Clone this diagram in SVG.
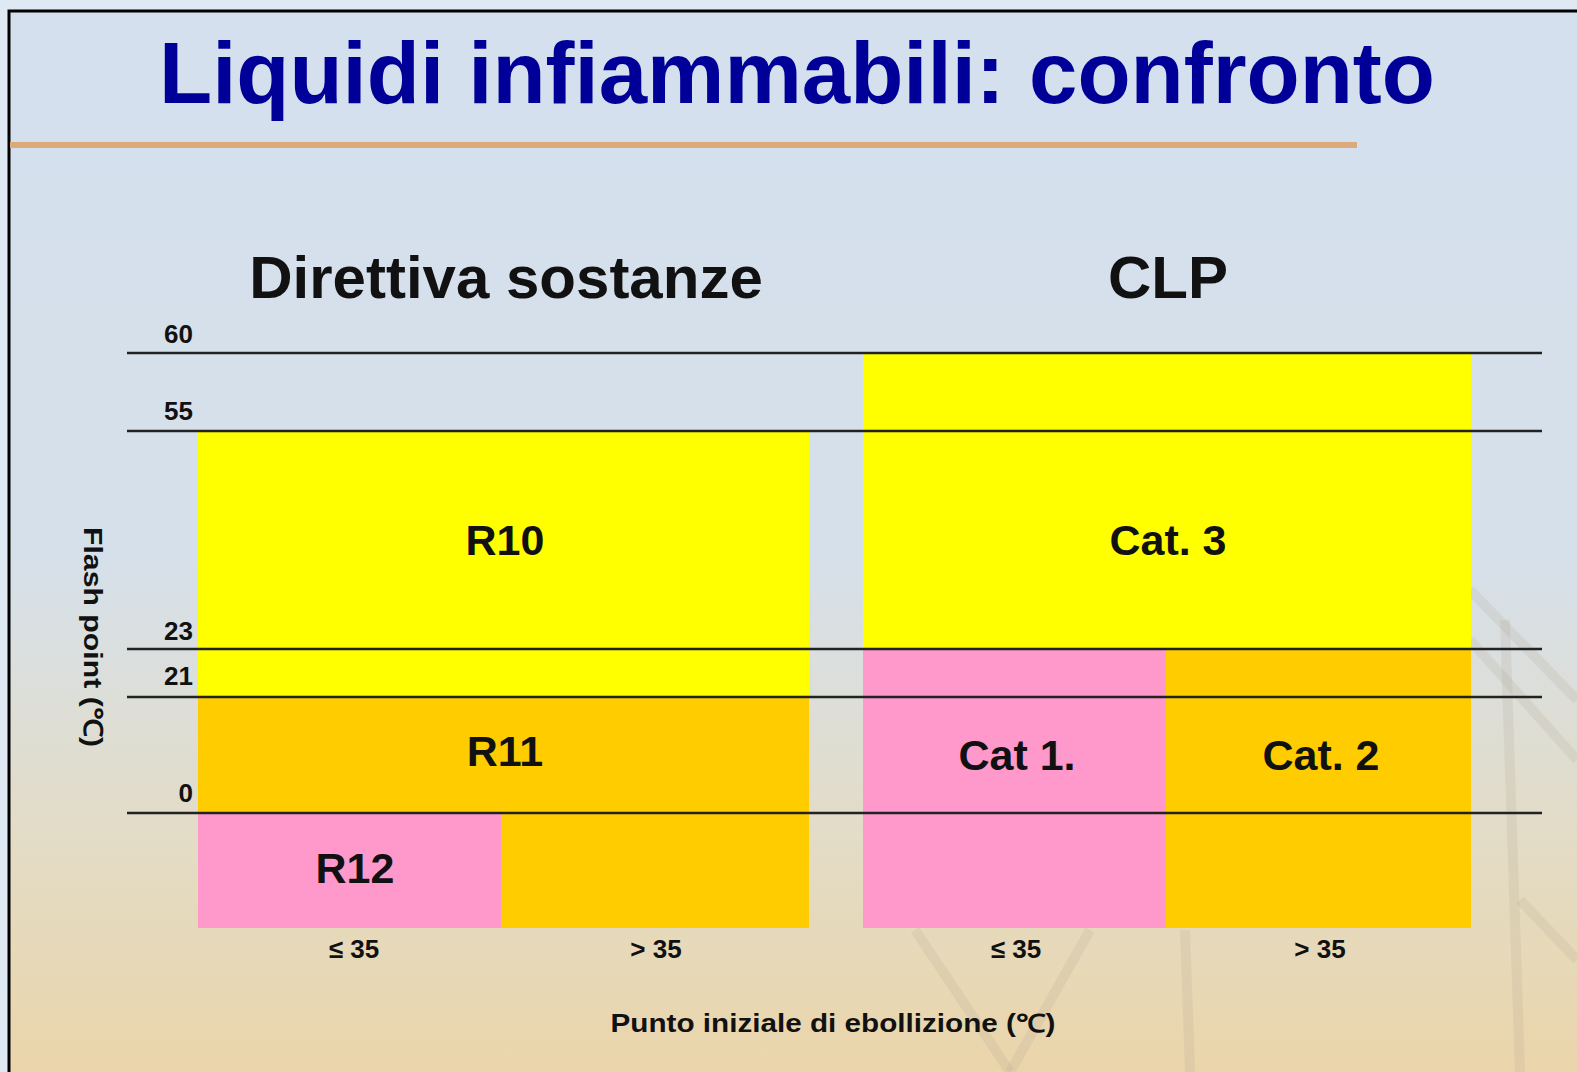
<svg xmlns="http://www.w3.org/2000/svg" width="1577" height="1072" viewBox="0 0 1577 1072">
<defs>
<linearGradient id="bg" x1="0" y1="0" x2="0" y2="1">
<stop offset="0" stop-color="#d4e0ee"/>
<stop offset="0.5" stop-color="#d6e0ea"/>
<stop offset="0.75" stop-color="#e3dcc6"/>
<stop offset="1" stop-color="#ecd4a6"/>
</linearGradient>
<style>
.t{font-family:"Liberation Sans",Arial,sans-serif;font-weight:bold;fill:#111}
.ax{font-size:26px;text-anchor:end}
.lb{font-size:43px;text-anchor:middle}
.bt{font-size:26px;text-anchor:middle}
.ln{stroke:#222;stroke-width:2.5}
.tw{stroke:#a89c86;stroke-opacity:0.16;stroke-width:10;fill:none}
</style>
</defs>
<rect x="0" y="0" width="1577" height="1072" fill="#dfe9f3"/>
<rect x="9" y="11" width="1600" height="1100" fill="url(#bg)" stroke="#000" stroke-width="3"/>
<g id="tower">
<path class="tw" d="M1470 590 L1577 700"/>
<path class="tw" d="M1470 640 L1577 760"/>
<path class="tw" d="M1505 620 L1520 1072"/>
<path class="tw" d="M1185 930 L1190 1072"/>
<path class="tw" d="M915 930 L1010 1072"/>
<path class="tw" d="M1090 930 L1010 1072"/>
<path class="tw" d="M1520 900 L1577 960"/>
</g>
<text class="t" x="159" y="103" font-size="87" style="fill:#000099">Liquidi infiammabili: confronto</text>
<rect x="10" y="142" width="1347" height="6" fill="#dcaa7a"/>
<text class="t" x="506" y="298" font-size="60" text-anchor="middle">Direttiva sostanze</text>
<text class="t" x="1168" y="298" font-size="60" text-anchor="middle">CLP</text>
<g id="left">
<rect x="198" y="431" width="611" height="266" fill="#ffff00"/>
<rect x="198" y="697" width="611" height="116" fill="#ffcc00"/>
<rect x="198" y="813" width="303" height="115" fill="#ff99cc"/>
<rect x="501" y="813" width="308" height="115" fill="#ffcc00"/>
</g>
<g id="right">
<rect x="863" y="353" width="608" height="296" fill="#ffff00"/>
<rect x="863" y="649" width="303" height="279" fill="#ff99cc"/>
<rect x="1166" y="649" width="305" height="279" fill="#ffcc00"/>
</g>
<g id="connectors">
<line class="ln" x1="127" y1="353" x2="1542" y2="353"/>
<line class="ln" x1="127" y1="431" x2="1542" y2="431"/>
<line class="ln" x1="127" y1="649" x2="1542" y2="649"/>
<line class="ln" x1="127" y1="697" x2="1542" y2="697"/>
<line class="ln" x1="127" y1="813" x2="1542" y2="813"/>
</g>
<g id="axis">
<text class="t ax" x="193" y="343">60</text>
<text class="t ax" x="193" y="420">55</text>
<text class="t ax" x="193" y="640">23</text>
<text class="t ax" x="193" y="685">21</text>
<text class="t ax" x="193" y="802">0</text>
<text class="t" font-size="26" text-anchor="middle" textLength="220" lengthAdjust="spacingAndGlyphs" transform="translate(84 637) rotate(90)">Flash point (℃)</text>
<text class="t bt" x="354" y="958">≤ 35</text>
<text class="t bt" x="656" y="958">&gt; 35</text>
<text class="t bt" x="1016" y="958">≤ 35</text>
<text class="t bt" x="1320" y="958">&gt; 35</text>
<text class="t" x="833" y="1032" font-size="25" text-anchor="middle" textLength="445" lengthAdjust="spacingAndGlyphs">Punto iniziale di ebollizione (℃)</text>
</g>
<g id="labels">
<text class="t lb" x="505" y="555">R10</text>
<text class="t lb" x="505" y="766">R11</text>
<text class="t lb" x="355" y="883">R12</text>
<text class="t lb" x="1168" y="555">Cat. 3</text>
<text class="t lb" x="1017" y="770">Cat 1.</text>
<text class="t lb" x="1321" y="770">Cat. 2</text>
</g>
</svg>
